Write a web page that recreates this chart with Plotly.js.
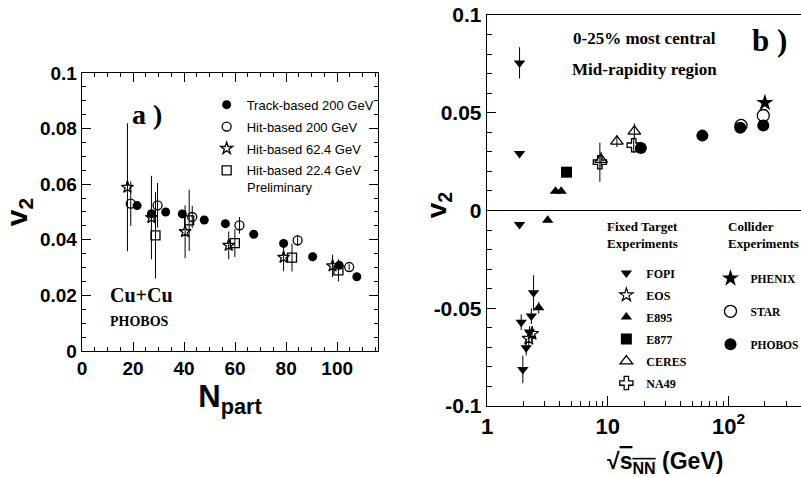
<!DOCTYPE html>
<html><head><meta charset="utf-8">
<script src="https://cdn.plot.ly/plotly-3.0.1.min.js"></script>
<style>html,body{margin:0;padding:0;overflow:hidden;background:#fff}</style>
</head><body><div id="chart" style="width:801px;height:477px"></div>
<script>
// ---------- Panel a: Cu+Cu PHOBOS v2 vs Npart ----------
const trackN = [21.6, 27.2, 32.8, 39.3, 47.9, 56.2, 67.3, 79.0, 90.4, 100.8, 107.7];
const trackV = [0.0523, 0.0494, 0.0500, 0.0493, 0.0471, 0.0458, 0.0420, 0.0387, 0.0339, 0.0308, 0.0267];
const trackE = [0.001, 0.001, 0.001, 0.001, 0.001, 0.001, 0.001, 0.001, 0.001, 0.001, 0.001];

const hit200N = [19.1, 29.6, 43.2, 61.7, 84.5, 104.7];
const hit200V = [0.0530, 0.0524, 0.0482, 0.0452, 0.0398, 0.0302];
const hit200E = [0.008, 0.008, 0.004, 0.003, 0.002, 0.001];

const hit62N = [17.8, 27.2, 40.4, 57.5, 79.0, 98.2];
const hit62V = [0.0589, 0.0480, 0.0429, 0.0380, 0.0337, 0.0306];
const hit62E = [0.023, 0.015, 0.0095, 0.005, 0.005, 0.004];

const hit22N = [28.8, 42.0, 59.9, 82.3, 100.5];
const hit22V = [0.0416, 0.0470, 0.0388, 0.0336, 0.0290];
const hit22E = [0.0155, 0.011, 0.005, 0.005, 0.004];

const legendA = ["Track-based 200 GeV", "Hit-based 200 GeV", "Hit-based 62.4 GeV", "Hit-based 22.4 GeV"];

const aXTicks = [0, 20, 40, 60, 80, 100];
const aXLabels = ["0", "20", "40", "60", "80", "100"];
const aYTicks = [0, 0.02, 0.04, 0.06, 0.08, 0.1];
const aYLabels = ["0", "0.02", "0.04", "0.06", "0.08", "0.1"];

// ---------- Panel b: v2 vs sqrt(sNN) ----------
const fopiS = [1.86, 1.86, 1.86, 1.92, 1.98, 2.11, 2.25, 2.33, 2.43];
const fopiV = [0.0755, 0.0291, -0.0072, -0.0571, -0.0813, -0.0702, -0.0622, -0.0540, -0.0421];
const fopiE = [0.008, 0, 0, 0.004, 0.007, 0.004, 0.003, 0.004, 0.009];

const eosS = [2.22, 2.36];
const eosV = [-0.0655, -0.0630];
const eosE = [0.004, 0.004];

const e895S = [2.68, 3.18, 3.69, 4.11];
const e895V = [-0.0498, -0.0050, 0.0099, 0.0099];
const e895E = [0.003, 0.001, 0.001, 0.001];

const e877S = [4.55];
const e877V = [0.0196];
const e877E = [0.002];

const ceresS = [8.8, 11.9, 16.6];
const ceresV = [0.0260, 0.0354, 0.0405];
const ceresE = [0.004, 0.003, 0.004];

const na49S = [8.6, 16.4];
const na49V = [0.0247, 0.0334];
const na49E = [0.010, 0.004];

const phenixS = [200];
const phenixV = [0.0551];

const starS = [127, 194];
const starV = [0.0435, 0.0486];

const phobosS = [18.8, 60.7, 125, 194];
const phobosV = [0.0320, 0.0383, 0.0423, 0.0435];

const fixedNames = ["FOPI", "EOS", "E895", "E877", "CERES", "NA49"];
const colliderNames = ["PHENIX", "STAR", "PHOBOS"];

const bXTicks = [1, 10, 100];
const bXLabels = ["1", "10", "10<sup>2</sup>"];
const bYTicks = [-0.1, -0.05, 0, 0.05, 0.1];
const bYLabels = ["-0.1", "-0.05", "0", "0.05", "0.1"];

const BLK = "#000";
function eb(arr) { return {type: "data", array: arr, visible: true, color: BLK, thickness: 1, width: 0}; }
function bold(arr) { return arr.map(function (s) { return "<b>" + s + "</b>"; }); }

const traces = [
  {x: trackN, y: trackV, error_y: eb(trackE), name: legendA[0], legendgroup: "a1",
   mode: "markers", type: "scatter", marker: {symbol: "circle", size: 9, color: BLK}},
  {x: hit200N, y: hit200V, error_y: eb(hit200E), name: legendA[1], legendgroup: "a2",
   mode: "markers", type: "scatter", marker: {symbol: "circle-open", size: 9, color: BLK, line: {width: 1.3}}},
  {x: hit62N, y: hit62V, error_y: eb(hit62E), name: legendA[2], legendgroup: "a3",
   mode: "markers", type: "scatter", marker: {symbol: "star-open", size: 9, color: BLK, line: {width: 1.3}}},
  {x: hit22N, y: hit22V, error_y: eb(hit22E), name: legendA[3], legendgroup: "a4",
   mode: "markers", type: "scatter", marker: {symbol: "square-open", size: 9, color: BLK, line: {width: 1.3}}},

  {x: fopiS, y: fopiV, error_y: eb(fopiE), name: fixedNames[0], legend: "legend2", legendgroup: "b1",
   xaxis: "x2", yaxis: "y2", mode: "markers", type: "scatter", marker: {symbol: "triangle-down", size: 10, color: BLK}},
  {x: eosS, y: eosV, error_y: eb(eosE), name: fixedNames[1], legend: "legend2", legendgroup: "b2",
   xaxis: "x2", yaxis: "y2", mode: "markers", type: "scatter", marker: {symbol: "star-open", size: 10, color: BLK, line: {width: 1.2}}},
  {x: e895S, y: e895V, error_y: eb(e895E), name: fixedNames[2], legend: "legend2", legendgroup: "b3",
   xaxis: "x2", yaxis: "y2", mode: "markers", type: "scatter", marker: {symbol: "triangle-up", size: 10, color: BLK}},
  {x: e877S, y: e877V, error_y: eb(e877E), name: fixedNames[3], legend: "legend2", legendgroup: "b4",
   xaxis: "x2", yaxis: "y2", mode: "markers", type: "scatter", marker: {symbol: "square", size: 11, color: BLK}},
  {x: ceresS, y: ceresV, error_y: eb(ceresE), name: fixedNames[4], legend: "legend2", legendgroup: "b5",
   xaxis: "x2", yaxis: "y2", mode: "markers", type: "scatter", marker: {symbol: "triangle-up-open", size: 11, color: BLK, line: {width: 1.3}}},
  {x: na49S, y: na49V, error_y: eb(na49E), name: fixedNames[5], legend: "legend2", legendgroup: "b6",
   xaxis: "x2", yaxis: "y2", mode: "markers", type: "scatter", marker: {symbol: "cross-open", size: 11, color: BLK, line: {width: 1.3}}},

  {x: phenixS, y: phenixV, name: colliderNames[0], legend: "legend3", legendgroup: "c1",
   xaxis: "x2", yaxis: "y2", mode: "markers", type: "scatter", marker: {symbol: "star", size: 13, color: BLK}},
  {x: starS, y: starV, name: colliderNames[1], legend: "legend3", legendgroup: "c2",
   xaxis: "x2", yaxis: "y2", mode: "markers", type: "scatter", marker: {symbol: "circle-open", size: 12, color: BLK, line: {width: 1.3}}},
  {x: phobosS, y: phobosV, name: colliderNames[2], legend: "legend3", legendgroup: "c3",
   xaxis: "x2", yaxis: "y2", mode: "markers", type: "scatter", marker: {symbol: "circle", size: 12, color: BLK}}
];

const SANS = "Liberation Sans, Arial, sans-serif";
const SERIF = "Liberation Serif, Times New Roman, serif";

function minorLog() {
  const v = [];
  for (let d = 1; d <= 100; d *= 10) for (let k = 2; k <= 9; k++) v.push(k * d);
  return v;
}

const axCommon = {showgrid: false, zeroline: false, showline: true, linecolor: BLK, linewidth: 1.3,
  ticks: "inside", tickcolor: BLK, mirror: "allticks"};

const layout = {
  width: 801, height: 477,
  margin: {l: 0, r: 0, t: 0, b: 0, autoexpand: false},
  paper_bgcolor: "#fff", plot_bgcolor: "#fff",
  showlegend: true,
  xaxis: Object.assign({}, axCommon, {
    domain: [0.1024, 0.4719], range: [0, 116], anchor: "y",
    tickmode: "array", tickvals: aXTicks, ticktext: bold(aXLabels), ticklen: 9,
    minor: {dtick: 5, tick0: 0, ticks: "inside", ticklen: 4, tickcolor: BLK},
    tickfont: {family: SANS, size: 19, color: BLK},
    title: {text: "<b>N<sub>part</sub></b>", font: {family: SANS, size: 31, color: BLK}, standoff: 2}
  }),
  yaxis: Object.assign({}, axCommon, {
    domain: [0.2642, 0.847], range: [0, 0.1], anchor: "x",
    tickmode: "array", tickvals: aYTicks, ticktext: bold(aYLabels), ticklen: 9,
    minor: {dtick: 0.005, tick0: 0, ticks: "inside", ticklen: 4, tickcolor: BLK},
    tickfont: {family: SANS, size: 19, color: BLK},
    title: {text: "<b>v<sub>2</sub></b>", font: {family: SANS, size: 30, color: BLK}, standoff: 8}
  }),
  xaxis2: Object.assign({}, axCommon, {
    type: "log", domain: [0.608, 1], range: [0, 2.6], anchor: "y2", mirror: true,
    tickmode: "array", tickvals: bXTicks, ticktext: bold(bXLabels), ticklen: 10,
    minor: {tickmode: "array", tickvals: minorLog(), ticks: "inside", ticklen: 5, tickcolor: BLK},
    tickfont: {family: SANS, size: 22, color: BLK}
  }),
  yaxis2: Object.assign({}, axCommon, {
    domain: [0.1488, 0.9686], range: [-0.1, 0.1], anchor: "x2", mirror: true,
    tickmode: "array", tickvals: bYTicks, ticktext: bold(bYLabels), ticklen: 9,
    zeroline: true, zerolinecolor: BLK, zerolinewidth: 1.3,
    minor: {dtick: 0.01, tick0: 0, ticks: "inside", ticklen: 5, tickcolor: BLK},
    tickfont: {family: SANS, size: 21, color: BLK}
  }),
  legend: {x: 0.258, y: 0.812, xanchor: "left", yanchor: "top", bgcolor: "rgba(0,0,0,0)",
    traceorder: "grouped", tracegroupgap: 2, font: {family: SANS, size: 13, color: BLK}},
  legend2: {x: 0.757, y: 0.458, xanchor: "left", yanchor: "top", bgcolor: "rgba(0,0,0,0)",
    traceorder: "grouped", tracegroupgap: 3, font: {family: SERIF, size: 12, weight: "bold", color: BLK}},
  legend3: {x: 0.887, y: 0.447, xanchor: "left", yanchor: "top", bgcolor: "rgba(0,0,0,0)",
    traceorder: "grouped", tracegroupgap: 14, font: {family: SERIF, size: 11.5, weight: "bold", color: BLK}},
  annotations: [
    {xref: "paper", yref: "paper", x: 0.184, y: 0.759, xanchor: "center", yanchor: "middle", text: "<b>a )</b>", showarrow: false,
     font: {family: SERIF, size: 28, color: BLK}},
    {xref: "paper", yref: "paper", x: 0.961, y: 0.916, xanchor: "center", yanchor: "middle", text: "<b>b )</b>", showarrow: false,
     font: {family: SERIF, size: 31, color: BLK}},
    {xref: "paper", yref: "paper", x: 0.1348, y: 0.3816, xanchor: "left", yanchor: "middle", text: "<b>Cu+Cu</b>", showarrow: false,
     font: {family: SERIF, size: 20, color: BLK}},
    {xref: "paper", yref: "paper", x: 0.1348, y: 0.327, xanchor: "left", yanchor: "middle", text: "<b>PHOBOS</b>", showarrow: false,
     font: {family: SERIF, size: 14, color: BLK}},
    {xref: "paper", yref: "paper", x: 0.306, y: 0.606, xanchor: "left", yanchor: "middle", text: "Preliminary", showarrow: false,
     font: {family: SANS, size: 13, color: BLK}},
    {xref: "paper", yref: "paper", x: 0.805, y: 0.920, xanchor: "center", yanchor: "middle", text: "<b>0-25% most central</b>", showarrow: false,
     font: {family: SERIF, size: 17, color: BLK}},
    {xref: "paper", yref: "paper", x: 0.805, y: 0.855, xanchor: "center", yanchor: "middle", text: "<b>Mid-rapidity region</b>", showarrow: false,
     font: {family: SERIF, size: 17, color: BLK}},
    {xref: "paper", yref: "paper", x: 0.755, y: 0.508, xanchor: "left", yanchor: "middle", align: "left",
     text: "<b>Fixed Target<br>Experiments</b>", showarrow: false,
     font: {family: SERIF, size: 13, color: BLK}},
    {xref: "paper", yref: "paper", x: 0.906, y: 0.508, xanchor: "left", yanchor: "middle", align: "left",
     text: "<b>Collider<br>Experiments</b>", showarrow: false,
     font: {family: SERIF, size: 13, color: BLK}},
    {xref: "paper", yref: "paper", x: 0.547, y: 0.57, xanchor: "center", yanchor: "middle", text: "<b>v<sub>2</sub></b>", textangle: -90, showarrow: false,
     font: {family: SANS, size: 28, color: BLK}},
    {xref: "paper", yref: "paper", x: 0.830, y: 0.030, xanchor: "center", yanchor: "middle",
     text: "<b>√<span style=\"text-decoration:overline\">s<sub>NN</sub></span> (GeV)</b>", showarrow: false,
     font: {family: SANS, size: 23, color: BLK}}
  ]
};

Plotly.newPlot("chart", traces, layout, {displayModeBar: false, staticPlot: true});
</script>
</body></html>
